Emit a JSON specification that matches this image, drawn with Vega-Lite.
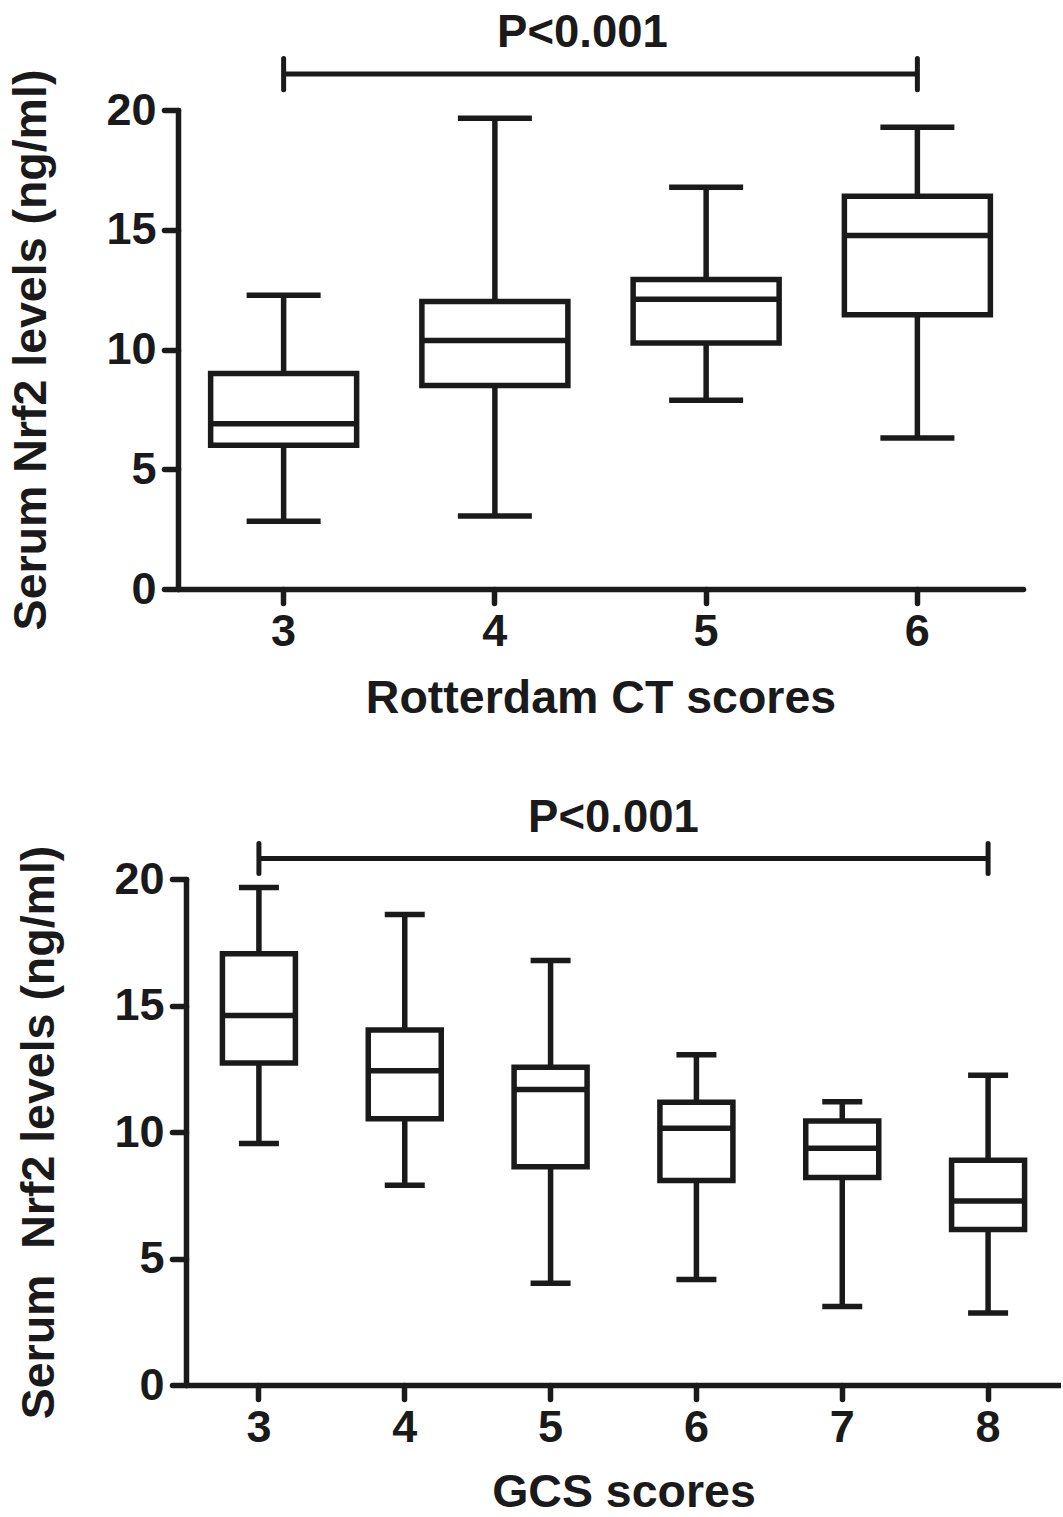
{
  "$schema": "https://vega.github.io/schema/vega-lite/v6.json",
  "background": "white",
  "padding": {"left": 8, "top": 11, "right": 0, "bottom": 0},
  "spacing": 74,
  "datasets": {
    "ct": [
      {"score": "3", "min": 2.83, "q1": 6.0, "median": 6.9, "q3": 9.0, "max": 12.27},
      {"score": "4", "min": 3.05, "q1": 8.5, "median": 10.38, "q3": 12.0, "max": 19.66},
      {"score": "5", "min": 7.88, "q1": 10.27, "median": 12.1, "q3": 12.92, "max": 16.77},
      {"score": "6", "min": 6.3, "q1": 11.45, "median": 14.76, "q3": 16.4, "max": 19.28}
    ],
    "ctBracket": [
      {"score": "3", "y": 21.5, "lo": 20.85, "hi": 22.15},
      {"score": "6", "y": 21.5, "lo": 20.85, "hi": 22.15}
    ],
    "ctLabel": [{"score": "4", "y": 23.2, "label": "P<0.001"}],
    "gcs": [
      {"score": "3", "min": 9.55, "q1": 12.73, "median": 14.6, "q3": 17.05, "max": 19.66},
      {"score": "4", "min": 7.9, "q1": 10.52, "median": 12.42, "q3": 14.03, "max": 18.6},
      {"score": "5", "min": 4.02, "q1": 8.63, "median": 11.68, "q3": 12.56, "max": 16.78},
      {"score": "6", "min": 4.17, "q1": 8.08, "median": 10.15, "q3": 11.18, "max": 13.05},
      {"score": "7", "min": 3.1, "q1": 8.2, "median": 9.36, "q3": 10.43, "max": 11.2},
      {"score": "8", "min": 2.85, "q1": 6.15, "median": 7.27, "q3": 8.88, "max": 12.24}
    ],
    "gcsBracket": [
      {"score": "3", "y": 20.81, "lo": 20.22, "hi": 21.4},
      {"score": "8", "y": 20.81, "lo": 20.22, "hi": 21.4}
    ],
    "gcsLabel": [{"score": "5", "y": 22.4, "label": "P<0.001"}]
  },
  "vconcat": [
    {
      "width": 845,
      "height": 479,
      "encoding": {
        "x": {
          "field": "score", "type": "ordinal",
          "scale": {"domain": ["3", "4", "5", "6"], "paddingInner": 0, "paddingOuter": 0},
          "axis": {"title": "Rotterdam CT scores", "labelAngle": 0, "bandPosition": 0.5, "titlePadding": 21, "labelPadding": 6}
        }
      },
      "layer": [
        {
          "data": {"name": "ct"},
          "mark": {"type": "rule", "color": "#1a1a1a", "strokeWidth": 5.5},
          "encoding": {
            "y": {"field": "min", "type": "quantitative", "scale": {"domain": [0, 20]},
              "axis": {"title": "Serum Nrf2 levels (ng/ml)", "values": [0, 5, 10, 15, 20], "titlePadding": 50, "labelPadding": 8}},
            "y2": {"field": "max"}
          }
        },
        {
          "data": {"name": "ct"},
          "mark": {"type": "tick", "color": "#1a1a1a", "size": 74, "thickness": 5.5, "orient": "horizontal", "opacity": 1},
          "encoding": {"y": {"field": "min", "type": "quantitative"}}
        },
        {
          "data": {"name": "ct"},
          "mark": {"type": "tick", "color": "#1a1a1a", "size": 74, "thickness": 5.5, "orient": "horizontal", "opacity": 1},
          "encoding": {"y": {"field": "max", "type": "quantitative"}}
        },
        {
          "data": {"name": "ct"},
          "mark": {"type": "bar", "width": 146, "fill": "white", "stroke": "#1a1a1a", "strokeWidth": 5.5},
          "encoding": {"y": {"field": "q1", "type": "quantitative"}, "y2": {"field": "q3"}}
        },
        {
          "data": {"name": "ct"},
          "mark": {"type": "tick", "color": "#1a1a1a", "size": 146, "thickness": 5.5, "orient": "horizontal", "opacity": 1},
          "encoding": {"y": {"field": "median", "type": "quantitative"}}
        },
        {
          "data": {"name": "ctBracket"},
          "mark": {"type": "line", "color": "#1a1a1a", "strokeWidth": 5},
          "encoding": {"y": {"field": "y", "type": "quantitative"}}
        },
        {
          "data": {"name": "ctBracket"},
          "mark": {"type": "rule", "color": "#1a1a1a", "strokeWidth": 5, "strokeCap": "round"},
          "encoding": {"y": {"field": "lo", "type": "quantitative"}, "y2": {"field": "hi"}}
        },
        {
          "data": {"name": "ctLabel"},
          "mark": {"type": "text", "font": "Liberation Sans", "fontWeight": "bold", "fontSize": 45.5, "color": "#1a1a1a", "align": "center", "baseline": "middle", "dx": -18},
          "encoding": {
            "x": {"field": "score", "type": "ordinal", "bandPosition": 1},
            "y": {"field": "y", "type": "quantitative"},
            "text": {"field": "label"}
          }
        }
      ]
    },
    {
      "width": 883,
      "height": 506,
      "encoding": {
        "x": {
          "field": "score", "type": "ordinal",
          "scale": {"domain": ["3", "4", "5", "6", "7", "8"], "range": [8, 883], "paddingInner": 0, "paddingOuter": 0},
          "axis": {"title": "GCS scores", "labelAngle": 0, "bandPosition": 0.5, "titlePadding": 19, "labelPadding": 6}
        }
      },
      "layer": [
        {
          "data": {"name": "gcs"},
          "mark": {"type": "rule", "color": "#1a1a1a", "strokeWidth": 5.5},
          "encoding": {
            "y": {"field": "min", "type": "quantitative", "scale": {"domain": [0, 20]},
              "axis": {"title": "Serum\u00a0 Nrf2 levels (ng/ml)", "values": [0, 5, 10, 15, 20], "titlePadding": 50, "labelPadding": 8, "offset": -8}},
            "y2": {"field": "max"}
          }
        },
        {
          "data": {"name": "gcs"},
          "mark": {"type": "tick", "color": "#1a1a1a", "size": 40, "thickness": 5.5, "orient": "horizontal", "opacity": 1},
          "encoding": {"y": {"field": "min", "type": "quantitative"}}
        },
        {
          "data": {"name": "gcs"},
          "mark": {"type": "tick", "color": "#1a1a1a", "size": 40, "thickness": 5.5, "orient": "horizontal", "opacity": 1},
          "encoding": {"y": {"field": "max", "type": "quantitative"}}
        },
        {
          "data": {"name": "gcs"},
          "mark": {"type": "bar", "width": 73, "fill": "white", "stroke": "#1a1a1a", "strokeWidth": 5.5},
          "encoding": {"y": {"field": "q1", "type": "quantitative"}, "y2": {"field": "q3"}}
        },
        {
          "data": {"name": "gcs"},
          "mark": {"type": "tick", "color": "#1a1a1a", "size": 73, "thickness": 5.5, "orient": "horizontal", "opacity": 1},
          "encoding": {"y": {"field": "median", "type": "quantitative"}}
        },
        {
          "data": {"name": "gcsBracket"},
          "mark": {"type": "line", "color": "#1a1a1a", "strokeWidth": 5},
          "encoding": {"y": {"field": "y", "type": "quantitative"}}
        },
        {
          "data": {"name": "gcsBracket"},
          "mark": {"type": "rule", "color": "#1a1a1a", "strokeWidth": 5, "strokeCap": "round"},
          "encoding": {"y": {"field": "lo", "type": "quantitative"}, "y2": {"field": "hi"}}
        },
        {
          "data": {"name": "gcsLabel"},
          "mark": {"type": "text", "font": "Liberation Sans", "fontWeight": "bold", "fontSize": 45.5, "color": "#1a1a1a", "align": "center", "baseline": "middle", "dx": -10},
          "encoding": {
            "x": {"field": "score", "type": "ordinal", "bandPosition": 1},
            "y": {"field": "y", "type": "quantitative"},
            "text": {"field": "label"}
          }
        }
      ]
    }
  ],
  "config": {
    "view": {"stroke": null},
    "axis": {
      "grid": false,
      "domainColor": "#1a1a1a",
      "domainWidth": 5.5,
      "domainCap": "round",
      "tickColor": "#1a1a1a",
      "tickWidth": 5.5,
      "tickSize": 14,
      "tickCap": "round",
      "labelFont": "Liberation Sans",
      "labelFontWeight": "bold",
      "labelFontSize": 45,
      "labelColor": "#1a1a1a",
      "titleFont": "Liberation Sans",
      "titleFontWeight": "bold",
      "titleFontSize": 46.5,
      "titleColor": "#1a1a1a"
    }
  }
}
